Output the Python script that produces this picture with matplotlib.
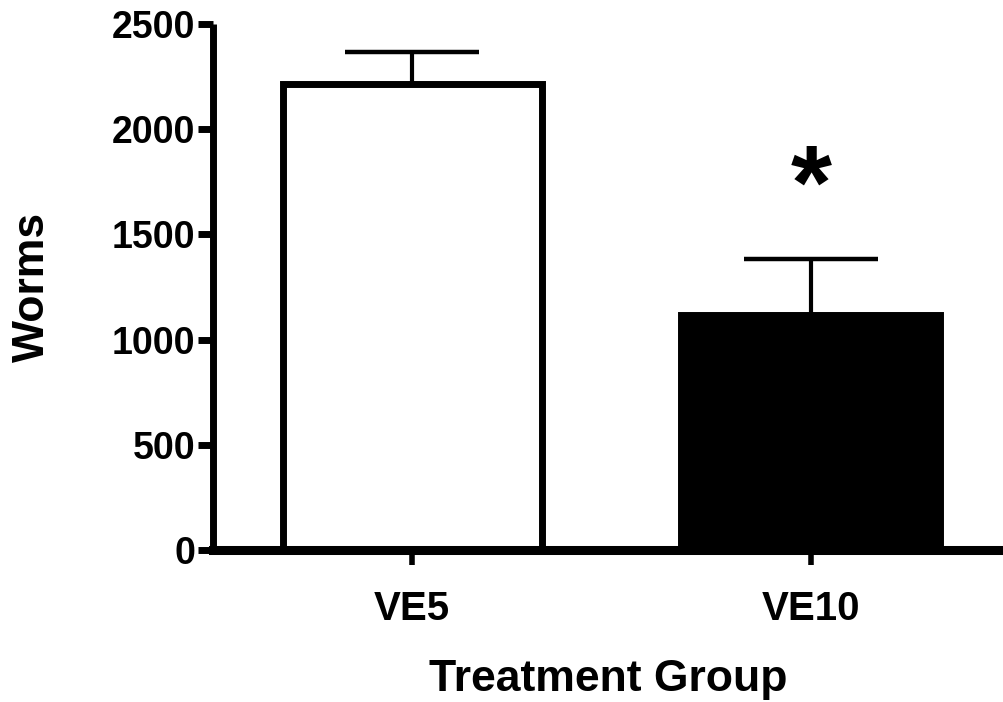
import matplotlib
matplotlib.use("Agg")
import matplotlib.pyplot as plt

categories = ["VE5", "VE10"]
means = [2217, 1118]
sems = [150, 265]
fill_colors = ["white", "black"]
yticks = [0, 500, 1000, 1500, 2000, 2500]

plt.rcParams['font.family'] = ['Liberation Sans', 'DejaVu Sans']
plt.rcParams['font.weight'] = 'bold'

fig = plt.figure(figsize=(10.04, 7.02), dpi=100)
ax = fig.add_axes([213/1004, 1-550/702, 1-213/1004, (550-24)/702])

x = list(range(len(categories)))
ax.bar(x, means, width=0.65, color=fill_colors, edgecolor="black", linewidth=5, zorder=2)
ax.errorbar(x, means, yerr=[[0]*len(sems), sems], fmt="none", ecolor="black",
            elinewidth=3, capsize=48, capthick=3.2, zorder=1)

ax.text(1, 1575, "*", ha="center", va="baseline", fontsize=76, fontweight="bold")

ax.set_xlim(-0.5, 1.485)
ax.set_ylim(0, 2500)
ax.set_yticks(yticks)
ax.set_yticklabels([str(v) for v in yticks])
ax.set_xticks(x)
ax.set_xticklabels(categories)

for s in ["top", "right"]:
    ax.spines[s].set_visible(False)
ax.spines["left"].set_linewidth(5)
ax.spines["bottom"].set_linewidth(6.5)
ax.spines["left"].set_capstyle("butt")
ax.tick_params(axis="y", length=11, width=5, labelsize=27, pad=2)
ax.tick_params(axis="x", length=11, width=4, labelsize=29, pad=18)
for lab in ax.get_xticklabels() + ax.get_yticklabels():
    lab.set_fontweight("bold")

ax.set_ylabel("Worms", fontsize=32, fontweight="bold", labelpad=42)
ax.set_xlabel("Treatment Group", fontsize=32, fontweight="bold", labelpad=22)

fig.savefig("out.png", dpi=100)
